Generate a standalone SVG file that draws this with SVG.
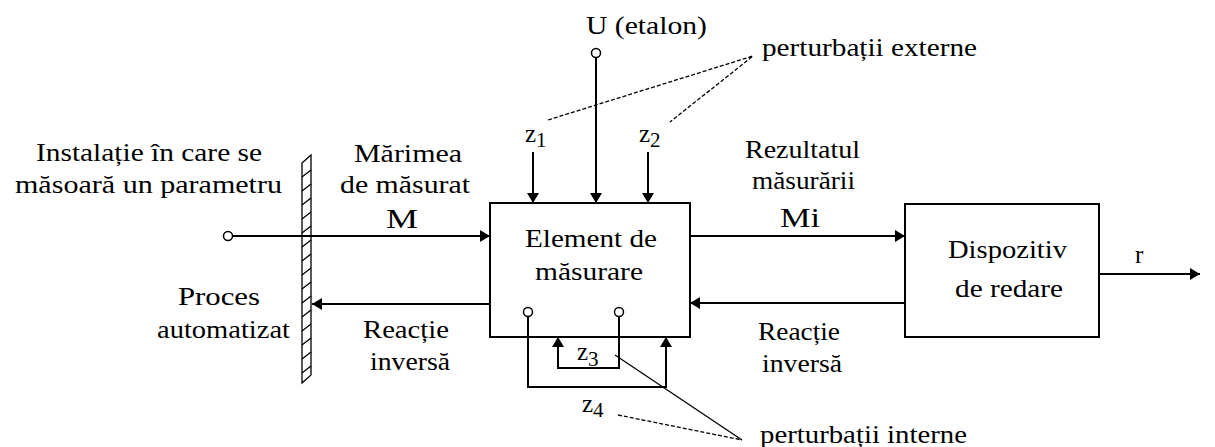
<svg xmlns="http://www.w3.org/2000/svg" width="1215" height="447" viewBox="0 0 1215 447">
<style>
text{font-family:"Liberation Serif","Times New Roman",serif;font-size:25px;fill:#000}
.big{font-size:27px}
.sub{font-size:21px}
.ln{fill:none;stroke:#000;stroke-width:2}
.thin{fill:none;stroke:#000;stroke-width:1.3}
.dash{fill:none;stroke:#000;stroke-width:1.3;stroke-dasharray:4 2}
.box{fill:#fff;stroke:#000;stroke-width:2}
.port{fill:#fff;stroke:#000;stroke-width:1.5}
</style>
<defs>
<marker id="ah" markerUnits="userSpaceOnUse" viewBox="0 0 10 12" refX="10" refY="6" markerWidth="10" markerHeight="12" orient="auto">
<path d="M0,0 L10,6 L0,12 z" fill="#000"/>
</marker>
</defs>
<rect width="1215" height="447" fill="#fff"/>

<g id="wall">
<path class="thin" d="M302,163 L311,155 L311,375 L302,383 Z"/>
<path class="thin" d="M302,177 L311,170 M302,191 L311,184 M302,205 L311,198 M302,219 L311,212 M302,233 L311,226 M302,247 L311,240 M302,261 L311,254 M302,275 L311,268 M302,289 L311,282 M302,303 L311,296 M302,317 L311,310 M302,331 L311,324 M302,345 L311,338 M302,359 L311,352 M302,373 L311,366"/>
</g>

<g id="element-masurare">
<rect class="box" x="490" y="203" width="200" height="134"/>
<text x="525" y="247" textLength="132" lengthAdjust="spacingAndGlyphs">Element de</text>
<text x="535" y="280" textLength="108" lengthAdjust="spacingAndGlyphs">măsurare</text>
</g>

<g id="dispozitiv-redare">
<rect class="box" x="905" y="204" width="194" height="133"/>
<text x="948" y="258" textLength="119" lengthAdjust="spacingAndGlyphs">Dispozitiv</text>
<text x="955" y="297" textLength="108" lengthAdjust="spacingAndGlyphs">de redare</text>
</g>

<g id="connectors">
<line class="ln" x1="232" y1="236" x2="490" y2="236" marker-end="url(#ah)"/>
<line class="ln" x1="490" y1="304" x2="312" y2="304" marker-end="url(#ah)"/>
<line class="ln" x1="690" y1="236" x2="905" y2="236" marker-end="url(#ah)"/>
<line class="ln" x1="905" y1="303" x2="690" y2="303" marker-end="url(#ah)"/>
<line class="ln" x1="1099" y1="274" x2="1200" y2="274" marker-end="url(#ah)"/>
<line class="ln" x1="533" y1="152" x2="533" y2="203" marker-end="url(#ah)"/>
<line class="ln" x1="596" y1="57" x2="596" y2="203" marker-end="url(#ah)"/>
<line class="ln" x1="648" y1="152" x2="648" y2="203" marker-end="url(#ah)"/>
<path class="ln" d="M619,316 L619,368 L558,368 L558,337" marker-end="url(#ah)"/>
<path class="ln" d="M528,316 L528,387 L666,387 L666,337" marker-end="url(#ah)"/>
<path class="dash" d="M548,120 L753,56 L670,122"/>
<path class="thin" d="M615,355 L742,440"/>
<path class="dash" d="M618,415 L742,440"/>
</g>

<g id="ports">
<circle class="port" cx="228" cy="236" r="4.5"/>
<circle class="port" cx="596" cy="53" r="4.5"/>
<circle class="port" cx="528" cy="312" r="4.5"/>
<circle class="port" cx="619" cy="312" r="4.5"/>
</g>

<g id="labels">
<text x="36" y="161" textLength="226" lengthAdjust="spacingAndGlyphs">Instalație în care se</text>
<text x="15" y="193" textLength="267" lengthAdjust="spacingAndGlyphs">măsoară un parametru</text>
<text x="354" y="162" textLength="108" lengthAdjust="spacingAndGlyphs">Mărimea</text>
<text x="340" y="193" textLength="130" lengthAdjust="spacingAndGlyphs">de măsurat</text>
<text class="big" x="386" y="228" textLength="32" lengthAdjust="spacingAndGlyphs">M</text>
<text x="745" y="158" textLength="115" lengthAdjust="spacingAndGlyphs">Rezultatul</text>
<text x="752" y="189" textLength="103" lengthAdjust="spacingAndGlyphs">măsurării</text>
<text class="big" x="780" y="227" textLength="40" lengthAdjust="spacingAndGlyphs">Mi</text>
<text x="1135" y="263">r</text>
<text x="178" y="305" textLength="82" lengthAdjust="spacingAndGlyphs">Proces</text>
<text x="157" y="338" textLength="133" lengthAdjust="spacingAndGlyphs">automatizat</text>
<text x="363" y="338" textLength="86" lengthAdjust="spacingAndGlyphs">Reacție</text>
<text x="370" y="370" textLength="80" lengthAdjust="spacingAndGlyphs">inversă</text>
<text x="758" y="340" textLength="82" lengthAdjust="spacingAndGlyphs">Reacție</text>
<text x="762" y="372" textLength="80" lengthAdjust="spacingAndGlyphs">inversă</text>
<text x="586" y="34" textLength="121" lengthAdjust="spacingAndGlyphs">U (etalon)</text>
<text x="762" y="56" textLength="215" lengthAdjust="spacingAndGlyphs">perturbații externe</text>
<text x="760" y="443" textLength="207" lengthAdjust="spacingAndGlyphs">perturbații interne</text>
<text x="525" y="142">z<tspan class="sub" dy="5">1</tspan></text>
<text x="639" y="142">z<tspan class="sub" dy="5">2</tspan></text>
<text x="577" y="360">z<tspan class="sub" dy="6">3</tspan></text>
<text x="582" y="412">z<tspan class="sub" dy="5">4</tspan></text>
</g>
</svg>
